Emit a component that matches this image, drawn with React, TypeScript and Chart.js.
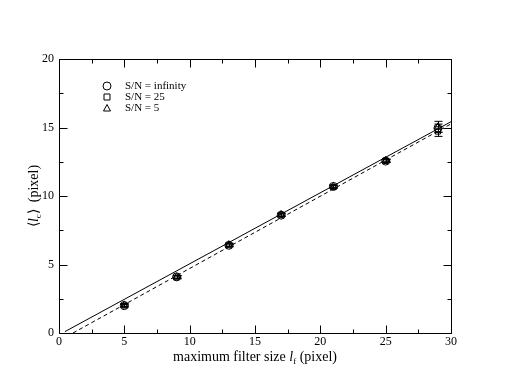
import React, { useEffect, useRef } from "react";
import { Chart, registerables } from "chart.js";
Chart.register(...registerables);

const filterSizes = [5, 9, 13, 17, 21, 25, 29];
const snInfinity = [2.0, 4.1, 6.4, 8.6, 10.7, 12.55, 14.95];
const sn25 = [2.0, 4.05, 6.4, 8.6, 10.65, 12.55, 14.7];
const sn5 = [2.05, 4.1, 6.45, 8.65, 10.7, 12.6, 15.05];
const errInfinity = [0.1, 0.1, 0.1, 0.1, 0.1, 0.1, 0.3];
const err25 = [0.1, 0.1, 0.1, 0.1, 0.1, 0.1, 0.35];
const err5 = [0.1, 0.1, 0.1, 0.1, 0.1, 0.1, 0.4];
const solidFitX = [0.45, 30];
const solidFitY = [0.1, 15.42];
const dashedFitX = [1.07, 30];
const dashedFitY = [0.0, 15.26];
const legendLabels = ["S/N = infinity", "S/N = 25", "S/N = 5"];
const xMajorTicks = [0, 5, 10, 15, 20, 25, 30];
const xMinorTicks = [2.5, 7.5, 12.5, 17.5, 22.5, 27.5];
const yMajorTicks = [0, 5, 10, 15, 20];
const yMinorTicks = [2.5, 7.5, 12.5, 17.5];

const SERIF = "'Liberation Serif', 'Times New Roman', serif";

const toPts = (xs: number[], ys: number[]) => xs.map((x, i) => ({ x, y: ys[i] }));

const decorPlugin = {
  id: "decor",
  afterDatasetsDraw(chart: any) {
    const ctx = chart.ctx as CanvasRenderingContext2D;
    const xs = chart.scales.x;
    const ys = chart.scales.y;
    const area = chart.chartArea;
    ctx.save();
    // error bars
    const errs = [errInfinity, err25, err5];
    const vals = [snInfinity, sn25, sn5];
    ctx.strokeStyle = "#000";
    ctx.lineWidth = 1;
    vals.forEach((arr, si) => {
      arr.forEach((v, i) => {
        const px = Math.round(xs.getPixelForValue(filterSizes[i])) + 0.5;
        const top = ys.getPixelForValue(v + errs[si][i]);
        const bot = ys.getPixelForValue(v - errs[si][i]);
        ctx.beginPath();
        ctx.moveTo(px, top);
        ctx.lineTo(px, bot);
        ctx.moveTo(px - 4, top);
        ctx.lineTo(px + 4, top);
        ctx.moveTo(px - 4, bot);
        ctx.lineTo(px + 4, bot);
        ctx.stroke();
      });
    });
    // frame
    ctx.lineWidth = 1;
    ctx.strokeStyle = "#000";
    const L = Math.round(area.left) + 0.5;
    const R = Math.round(area.right) + 0.5;
    const T = Math.round(area.top) + 0.5;
    const B = Math.round(area.bottom) + 0.5;
    ctx.strokeRect(L, T, R - L, B - T);
    // ticks
    ctx.beginPath();
    const tickX = (vals: number[], len: number) => {
      vals.forEach((v) => {
        const p = Math.round(xs.getPixelForValue(v)) + 0.5;
        ctx.moveTo(p, B);
        ctx.lineTo(p, B - len);
        ctx.moveTo(p, T);
        ctx.lineTo(p, T + len);
      });
    };
    const tickY = (vals: number[], len: number) => {
      vals.forEach((v) => {
        const p = Math.round(ys.getPixelForValue(v)) + 0.5;
        ctx.moveTo(L, p);
        ctx.lineTo(L + len, p);
        ctx.moveTo(R, p);
        ctx.lineTo(R - len, p);
      });
    };
    tickX(xMajorTicks, 8);
    tickX(xMinorTicks, 4);
    tickY(yMajorTicks, 8);
    tickY(yMinorTicks, 4);
    ctx.stroke();

    // legend
    ctx.fillStyle = "#000";
    ctx.textBaseline = "middle";
    ctx.textAlign = "left";
    ctx.font = `11px ${SERIF}`;
    const lx = 107;
    const ly = [86, 97, 108];
    legendLabels.forEach((lab, i) => {
      const y = ly[i];
      ctx.beginPath();
      if (i === 0) {
        ctx.arc(lx, y, 4, 0, Math.PI * 2);
      } else if (i === 1) {
        ctx.rect(lx - 3, y - 3, 6, 6);
      } else {
        ctx.moveTo(lx, y - 3.5);
        ctx.lineTo(lx + 3.5, y + 3);
        ctx.lineTo(lx - 3.5, y + 3);
        ctx.closePath();
      }
      ctx.stroke();
      ctx.fillText(lab, 125, y);
    });

    // titles with italic l and subscripts
    const drawRich = (parts: { t: string; font: string; dy: number }[], cx: number, cy: number) => {
      let total = 0;
      parts.forEach((p) => {
        ctx.font = p.font;
        total += ctx.measureText(p.t).width;
      });
      let x = cx - total / 2;
      parts.forEach((p) => {
        ctx.font = p.font;
        ctx.fillText(p.t, x, cy + p.dy);
        x += ctx.measureText(p.t).width;
      });
    };
    ctx.textBaseline = "alphabetic";
    const cxTitle = (area.left + area.right) / 2;
    drawRich(
      [
        { t: "maximum filter size ", font: `14px ${SERIF}`, dy: 0 },
        { t: "l", font: `italic 14px ${SERIF}`, dy: 0 },
        { t: "f", font: `9px ${SERIF}`, dy: 3 },
        { t: " (pixel)", font: `14px ${SERIF}`, dy: 0 },
      ],
      cxTitle,
      361
    );
    ctx.save();
    ctx.translate(38, (area.top + area.bottom) / 2);
    ctx.rotate(-Math.PI / 2);
    drawRich(
      [
        { t: "\u27E8", font: `14px ${SERIF}`, dy: 0 },
        { t: "l", font: `italic 14px ${SERIF}`, dy: 0 },
        { t: "c", font: `9px ${SERIF}`, dy: 3 },
        { t: "\u27E9  (pixel)", font: `14px ${SERIF}`, dy: 0 },
      ],
      0,
      0
    );
    ctx.restore();
    ctx.restore();
  },
};

export default function App() {
  const ref = useRef<HTMLCanvasElement | null>(null);
  useEffect(() => {
    if (!ref.current) return;
    const pointBase = {
      showLine: false,
      borderColor: "#000",
      backgroundColor: "rgba(0,0,0,0)",
      borderWidth: 1,
      pointRadius: 4,
    };
    const chart = new Chart(ref.current, {
      type: "scatter",
      data: {
        datasets: [
          { ...pointBase, label: legendLabels[0], data: toPts(filterSizes, snInfinity), pointStyle: "circle", pointRadius: 4 },
          { ...pointBase, label: legendLabels[1], data: toPts(filterSizes, sn25), pointStyle: "rect", pointRadius: 3.5 },
          { ...pointBase, label: legendLabels[2], data: toPts(filterSizes, sn5), pointStyle: "triangle", pointRadius: 4 },
          {
            label: "fit solid",
            data: toPts(solidFitX, solidFitY),
            showLine: true,
            borderColor: "#000",
            borderWidth: 1,
            pointRadius: 0,
          },
          {
            label: "fit dashed",
            data: toPts(dashedFitX, dashedFitY),
            showLine: true,
            borderColor: "#000",
            borderWidth: 1,
            borderDash: [4, 3],
            pointRadius: 0,
          },
        ],
      },
      options: {
        responsive: false,
        animation: false,
        layout: { padding: { top: 59, right: 57, left: 0, bottom: 0 } },
        plugins: { legend: { display: false }, tooltip: { enabled: false } },
        scales: {
          x: {
            type: "linear",
            min: 0,
            max: 30,
            grid: { display: false, drawTicks: false },
            border: { display: false },
            ticks: { stepSize: 5, color: "#000", font: { family: SERIF, size: 12 }, padding: 2, maxRotation: 0 },
            afterFit: (s: any) => {
              s.height = 59;
            },
          },
          y: {
            type: "linear",
            min: 0,
            max: 20,
            grid: { display: false, drawTicks: false },
            border: { display: false },
            ticks: { stepSize: 5, color: "#000", font: { family: SERIF, size: 12 }, padding: 5 },
            afterFit: (s: any) => {
              s.width = 59;
            },
          },
        },
      },
      plugins: [decorPlugin],
    } as any);
    return () => chart.destroy();
  }, []);
  return (
    <div style={{ position: "absolute", left: 0, top: 0, width: 508, height: 392, background: "#fff" }}>
      <canvas ref={ref} width={508} height={392} />
    </div>
  );
}
